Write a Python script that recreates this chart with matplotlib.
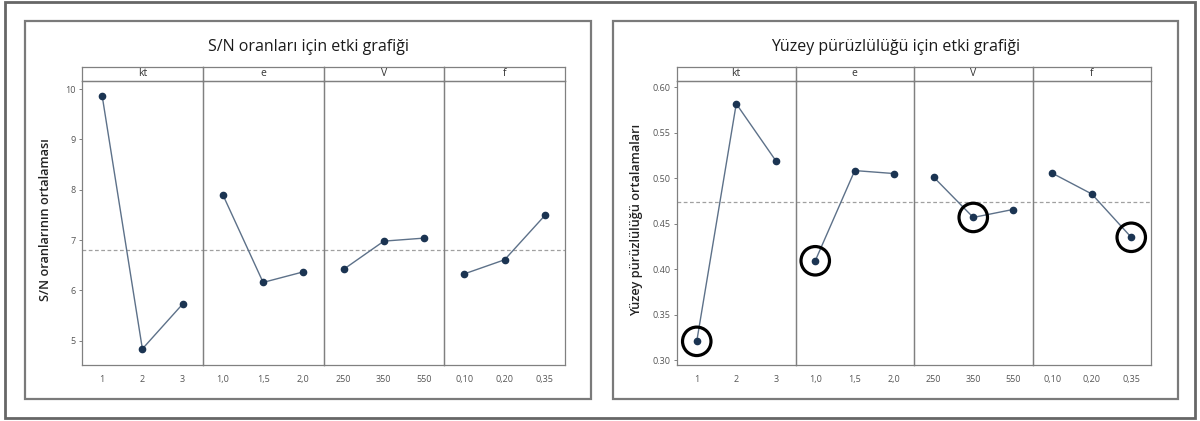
import numpy as np
import matplotlib
matplotlib.use("Agg")
import matplotlib.pyplot as plt
from matplotlib.patches import Rectangle

plt.rcParams['font.family'] = ['Open Sans', 'DejaVu Sans']

factors = ['kt', 'e', 'V', 'f']
kt_levels = ['1', '2', '3']
e_levels = ['1,0', '1,5', '2,0']
V_levels = ['250', '350', '550']
f_levels = ['0,10', '0,20', '0,35']
levels = [kt_levels, e_levels, V_levels, f_levels]

sn_kt = [9.87, 4.84, 5.73]
sn_e = [7.90, 6.16, 6.37]
sn_V = [6.42, 6.98, 7.04]
sn_f = [6.33, 6.61, 7.49]
sn_values = [sn_kt, sn_e, sn_V, sn_f]

ra_kt = [0.321, 0.582, 0.5195]
ra_e = [0.4095, 0.5086, 0.5053]
ra_V = [0.5013, 0.4571, 0.4658]
ra_f = [0.5057, 0.4829, 0.4353]
ra_values = [ra_kt, ra_e, ra_V, ra_f]

W, H = 1200, 421
fig = plt.figure(figsize=(W / 100, H / 100), dpi=100)

def fx(px):
    return px / W

def fy(py):
    return 1 - py / H

# outer border
fig.patches.append(Rectangle((fx(5), fy(418)), fx(1190), (418 - 2) / H,
                             transform=fig.transFigure, fill=False,
                             edgecolor='#666666', lw=2))

POINT = '#1b3452'
LINE = '#5d7189'
GRID = '#808080'
TXT = '#555555'

def panel(box, ax_x0, ax_x1, values, title, ylabel, ylim, yticks, yfmt,
          ylabel_x, rings=False):
    bx0, by0, bx1, by1 = box
    fig.patches.append(Rectangle((fx(bx0), fy(by1)), fx(bx1 - bx0), (by1 - by0) / H,
                                 transform=fig.transFigure, fill=False,
                                 edgecolor='#7a7a7a', lw=1.6))
    fig.text(fx((bx0 + bx1) / 2), fy(47), title, ha='center', va='center',
             fontsize=11.5, color='#1a1a1a', fontweight='medium')
    fig.text(fx(ylabel_x), fy(220), ylabel, rotation=90, ha='center', va='center',
             fontsize=9.2, color='#222222', fontweight='semibold')
    top, strip_bot, bot = 67, 81, 365
    fw = (ax_x1 - ax_x0) / 4
    allv = np.concatenate([np.asarray(v) for v in values])
    grand = allv.mean()
    for i, (name, lv, vals) in enumerate(zip(factors, levels, values)):
        x0 = ax_x0 + i * fw
        ax = fig.add_axes([fx(x0), fy(bot), fx(fw), (bot - strip_bot) / H])
        ax.patch.set_visible(False)
        sax = fig.add_axes([fx(x0), fy(strip_bot), fx(fw), (strip_bot - top) / H])
        sax.patch.set_visible(False)
        sax.set_xticks([]); sax.set_yticks([])
        for s in sax.spines.values():
            s.set_color(GRID); s.set_linewidth(0.9)
        sax.text(0.5, 0.5, name, ha='center', va='center', fontsize=7.5,
                 color='#333333', transform=sax.transAxes)
        xs = np.arange(len(vals))
        ax.plot(xs, vals, color=LINE, lw=1.0, zorder=2)
        ax.plot(xs, vals, 'o', color=POINT, ms=4.5, zorder=3)
        ax.axhline(grand, color='#a0a0a0', lw=0.9, ls=(0, (3, 2)), zorder=1)
        if rings:
            j = int(np.argmin(vals))
            ax.scatter([xs[j]], [vals[j]], s=420, facecolors='none',
                       edgecolors='black', linewidths=2.3, zorder=4, clip_on=False)
        ax.set_xlim(-0.5, 2.5)
        ax.set_ylim(*ylim)
        ax.set_xticks(xs)
        ax.set_xticklabels(lv)
        ax.tick_params(axis='x', length=0, labelsize=6.5, labelcolor=TXT, pad=7)
        if i == 0:
            ax.set_yticks(yticks)
            ax.set_yticklabels([yfmt(t) for t in yticks])
            ax.tick_params(axis='y', length=2.5, width=0.7, color=GRID,
                           labelsize=6.5, labelcolor=TXT, pad=2)
        else:
            ax.set_yticks([])
        for k, s in ax.spines.items():
            s.set_color(GRID); s.set_linewidth(0.9)

panel((25, 21, 591, 399), 82, 565, sn_values,
      'S/N oranları için etki grafiği', 'S/N oranlarının ortalaması',
      (4.52, 10.16), [5, 6, 7, 8, 9, 10], lambda t: f'{t:d}', 46)

panel((613, 21, 1178, 399), 677, 1151, ra_values,
      'Yüzey pürüzlülüğü için etki grafiği', 'Yüzey pürüzlülüğü ortalamaları',
      (0.295, 0.607), [0.30, 0.35, 0.40, 0.45, 0.50, 0.55, 0.60],
      lambda t: f'{t:.2f}', 637, rings=True)

fig.savefig('out.png', dpi=100)
